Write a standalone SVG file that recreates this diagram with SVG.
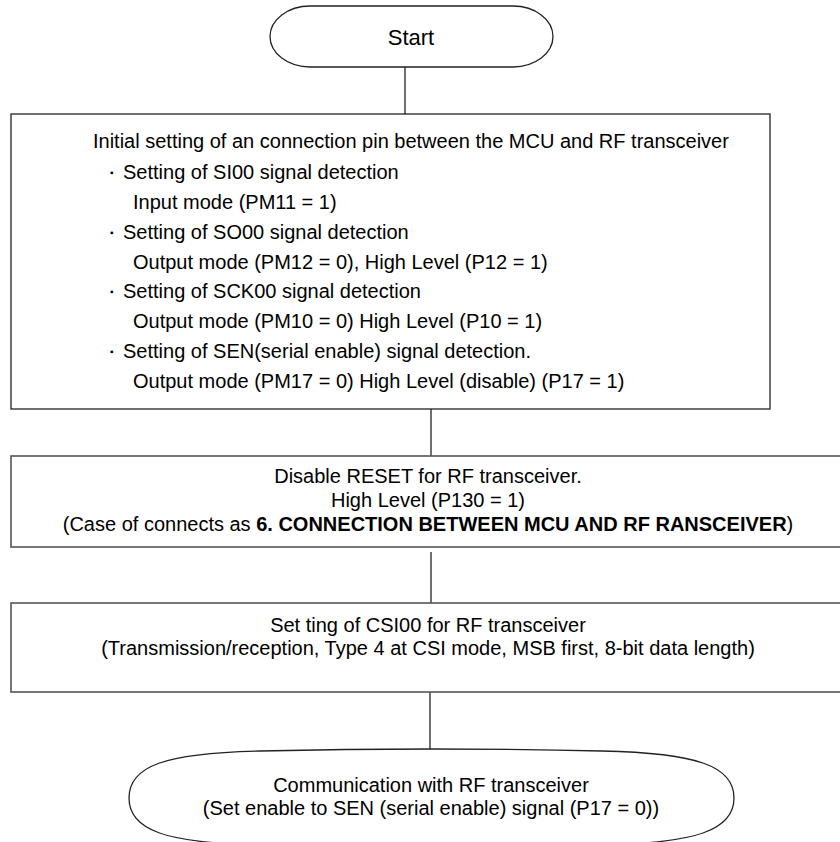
<svg xmlns="http://www.w3.org/2000/svg" width="840" height="842" viewBox="0 0 840 842">
<style>
.shape{fill:#fff;stroke:#222;stroke-width:1.3}
.gray{stroke:#555;stroke-width:1.6}
.conn line{stroke:#222;stroke-width:1.3}
text{font-family:"Liberation Sans",Arial,sans-serif;font-size:20px;fill:#000}
.c{text-anchor:middle}
.b{font-weight:bold}
.bul{font-size:10px}
</style>
<rect width="840" height="842" fill="#fff"/>
<g id="connectors" class="conn">
<line x1="405" y1="67" x2="405" y2="114"/>
<line x1="431" y1="409" x2="431" y2="456"/>
<line x1="431" y1="552" x2="431" y2="603"/>
<line x1="430" y1="692" x2="430" y2="751"/>
</g>
<g id="start">
<path class="shape" d="M310,6 H513 A40,30.5 0 0 1 513,67 H310 A40,30.5 0 0 1 310,6 Z"/>
<text class="c" x="411" y="45" style="font-size:22px">Start</text>
</g>
<g id="init">
<rect class="shape" x="11" y="114" width="759" height="295"/>
<text x="93" y="148">Initial setting of an connection pin between the MCU and RF transceiver</text>
<text x="110" y="176" class="bul">▪</text>
<text x="123" y="179">Setting of SI00 signal detection</text>
<text x="133" y="209">Input mode (PM11 = 1)</text>
<text x="110" y="236" class="bul">▪</text>
<text x="123" y="239">Setting of SO00 signal detection</text>
<text x="133" y="269">Output mode (PM12 = 0), High Level (P12 = 1)</text>
<text x="110" y="295" class="bul">▪</text>
<text x="123" y="298">Setting of SCK00 signal detection</text>
<text x="133" y="328">Output mode (PM10 = 0) High Level (P10 = 1)</text>
<text x="110" y="355" class="bul">▪</text>
<text x="123" y="358">Setting of SEN(serial enable) signal detection.</text>
<text x="133" y="388">Output mode (PM17 = 0) High Level (disable) (P17 = 1)</text>
</g>
<g id="reset">
<rect class="shape gray" x="11" y="456" width="840" height="91"/>
<text class="c" x="428" y="483">Disable RESET for RF transceiver.</text>
<text class="c" x="428" y="507">High Level (P130 = 1)</text>
<text class="c" x="428" y="531">(Case of connects as <tspan class="b">6. CONNECTION BETWEEN MCU AND RF RANSCEIVER</tspan>)</text>
</g>
<g id="csi">
<rect class="shape gray" x="11" y="603" width="840" height="89"/>
<text class="c" x="428" y="632">Set ting of CSI00 for RF transceiver</text>
<text class="c" x="428" y="655">(Transmission/reception, Type 4 at CSI mode, MSB first, 8-bit data length)</text>
</g>
<g id="end">
<path class="shape" d="M129,798 C129,766 165,753 260,751 Q431,747 602,751 C697,753 734,766 734,798 C734,830 697,843 602,845 Q431,849 260,845 C165,843 129,830 129,798 Z"/>
<text class="c" x="431" y="792">Communication with RF transceiver</text>
<text class="c" x="431" y="815">(Set enable to SEN (serial enable) signal (P17 = 0))</text>
</g>
</svg>
